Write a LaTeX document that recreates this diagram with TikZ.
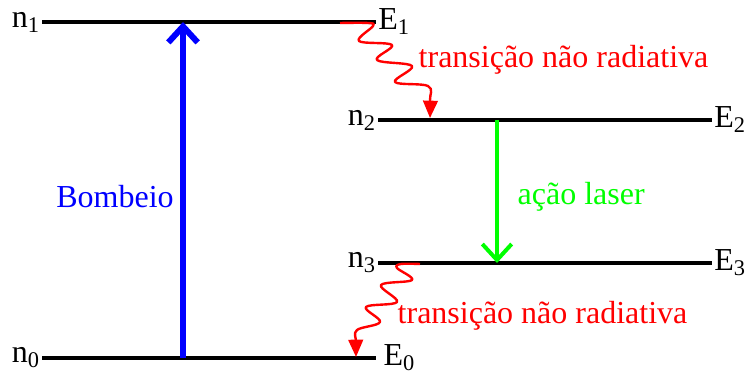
\documentclass[tikz,border=0pt]{standalone}
\usepackage{fontspec}
\setmainfont{Liberation Serif}
\usetikzlibrary{arrows.meta}

\begin{document}
\begin{tikzpicture}[x=0.75pt,y=-0.75pt,font=\fontsize{24}{28}\selectfont,line cap=butt,
  level/.style={line width=3pt},
  lbl/.style={inner sep=1.5pt},
  pump/.style={blue,line width=4.5pt,-{Straight Barb[length=12pt,width=22pt]}},
  lasing/.style={green,line width=3pt,-{Straight Barb[length=12pt,width=22pt]}},
  nonrad/.style={red,line width=1.8pt,line join=round,-{Triangle[length=13pt,width=11pt]}}]
\useasboundingbox (0,0) rectangle (745,374);
% energy levels
\coordinate (n1L) at (42,22);   \coordinate (n1R) at (376,22);
\coordinate (n0L) at (42,358);  \coordinate (n0R) at (376,358);
\coordinate (n2L) at (378,120); \coordinate (n2R) at (712,120);
\coordinate (n3L) at (378,263); \coordinate (n3R) at (712,263);
\draw[level] (n1L) -- (n1R);
\draw[level] (n0L) -- (n0R);
\draw[level] (n2L) -- (n2R);
\draw[level] (n3L) -- (n3R);
\node[lbl,left] (ln1) at (n1L) {n\textsubscript{1}};
\node[lbl,left] (ln0) at (n0L) {n\textsubscript{0}};
\node[lbl,left] (ln2) at (n2L) {n\textsubscript{2}};
\node[lbl,left] (ln3) at (n3L) {n\textsubscript{3}};
\node[lbl,right] (le1) at (n1R) {E\textsubscript{1}};
\node[lbl,right] (le0) at ([xshift=4]n0R) {E\textsubscript{0}};
\node[lbl,right] (le2) at (n2R) {E\textsubscript{2}};
\node[lbl,right] (le3) at (n3R) {E\textsubscript{3}};
% pumping and laser action
\coordinate (pb) at (183,358); \coordinate (pt) at (183,22);
\draw[pump] (pb) -- (pt);
\node[blue] (bomb) at (115,197) {Bombeio};
\coordinate (lt) at (497,120); \coordinate (lb) at (497,263);
\draw[lasing] (lt) -- (lb);
\node[green,anchor=west] (acao) at (513,197) {ação laser};
% non radiative transitions
\draw[nonrad] plot[smooth,tension=0.6] coordinates {(340,23) (368,23) (373,26) (359,41)
  (392,45) (377,60) (412,66) (395,82) (428,86) (430,100) (430,118)};
\node[red,anchor=west] (nr1) at (414,60) {transição não radiativa};
\draw[nonrad] plot[smooth,tension=0.6] coordinates {(420,264) (401,264) (397,268) (412,280)
  (381,285) (397,302) (366,307) (380,322) (357,330) (356,342) (356,357)};
\node[red,anchor=west] (nr2) at (393,316) {transição não radiativa};
\end{tikzpicture}
\end{document}
